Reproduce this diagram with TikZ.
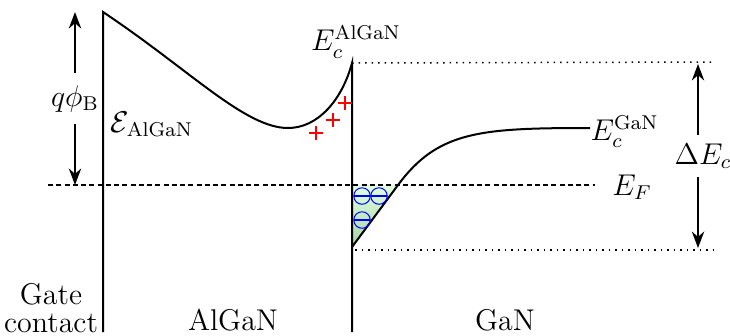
\documentclass[tikz,border=0pt]{standalone}
\usepackage{amsmath,amssymb}
\usetikzlibrary{arrows.meta, positioning}

\begin{document}
\begin{tikzpicture}[x=0.4pt, y=-0.4pt, >=Stealth, font=\large,
    band/.style={line width=0.8pt},
    fermi/.style={line width=0.8pt, dash pattern=on 2pt off 1.3pt},
    edge/.style={line width=0.6pt, dotted},
    plus/.style={minimum size=5.6pt, inner sep=0pt,
      path picture={\draw[red, line width=1pt]
        (path picture bounding box.west) -- (path picture bounding box.east)
        (path picture bounding box.north) -- (path picture bounding box.south);}},
    elec/.style={circle, draw=blue, minimum size=6.6pt, inner sep=0pt,
      path picture={\draw[blue, line width=0.6pt]
        (path picture bounding box.west) -- (path picture bounding box.east);}}]
  \useasboundingbox (0,0) rectangle (730,335);
  % corners of the band diagram
  \coordinate (gtop) at (103,12);
  \coordinate (gbot) at (103,332);
  \coordinate (itop) at (352,63);
  \coordinate (ibot) at (352,332);
  \coordinate (cmin) at (352,247);
  \coordinate (efl) at (48,185);
  \coordinate (efr) at (595,185);
  \coordinate (efi) at (352,185);
  \coordinate (efx) at (398,185);
  \coordinate (dtop) at (715,62);
  \coordinate (dbot) at (715,250);
  % arrows
  \coordinate (qtop) at (75,12);
  \coordinate (qbot) at (75,185);
  \draw[<->, line width=0.8pt] (qtop) -- node[fill=white, inner ysep=5pt] (qphi) {$q\phi_{\mathrm{B}}$} (qbot);
  \coordinate (etop) at (698,64);
  \coordinate (ebot) at (698,248);
  \draw[<->, line width=0.8pt] (etop) -- node[fill=white, xshift=2pt] (dEc) {$\Delta E_c$} (ebot);
  % 2DEG well
  \shade[top color=green!12, bottom color=green!50!black!35] (efi) -- (cmin) -- (efx) -- cycle;
  % bands
  \draw[band] (gbot) -- (gtop) .. controls (190,70) and (245,128) .. (288,128)
    .. controls (318,128) and (342,100) .. (itop) -- (ibot);
  \draw[band] (cmin) -- (efx) .. controls (438,131) and (480,128) .. (590,128);
  \draw[fermi] (efl) -- (efr);
  \draw[edge] (itop) -- (dtop);
  \draw[edge] (cmin) ++(3,3) coordinate (cdot) -- (dbot);
  % charges
  \node[plus] (p1) at (316,133) {};
  \node[plus] (p2) at (333,120) {};
  \node[plus] (p3) at (345,103) {};
  \node[elec] (n1) at (362,196) {};
  \node[elec] (n2) at (379,196) {};
  \node[elec] (n3) at (362,220) {};
  % labels
  \node (EcA) at (356,42) {$E_c^{\mathrm{AlGaN}}$};
  \node (field) at (152,124) {$\mathcal{E}_{\mathrm{AlGaN}}$};
  \node[anchor=west, inner sep=0pt] (EcG) at (590,132) {$E_c^{\mathrm{GaN}}$};
  \node (EF) at (632,187) {$E_F$};
  \node[align=center] (gate) at (51,308) {Gate\\[-2.5pt]contact};
  \node (algan) at (233,320) {AlGaN};
  \node (gan) at (505,320) {GaN};
\end{tikzpicture}
\end{document}
